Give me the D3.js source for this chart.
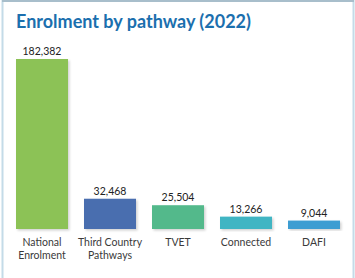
<!DOCTYPE html>
<html><head><meta charset="utf-8">
<script src="https://cdn.jsdelivr.net/npm/d3@7"></script>
<style>body{margin:0;background:#fff;} svg{display:block;}</style>
</head><body>
<script>
const categories = ["National Enrolment", "Third Country Pathways", "TVET", "Connected", "DAFI"];
const labelLines = [["National", "Enrolment"], ["Third Country", "Pathways"], ["TVET"], ["Connected"], ["DAFI"]];
const values = [182382, 32468, 25504, 13266, 9044];
const valueLabels = ["182,382", "32,468", "25,504", "13,266", "9,044"];
const colors = ["#8cc257", "#4a6eaf", "#52b98b", "#3fb5c3", "#3c9dd2"];

const W = 355, H = 278;
const svg = d3.select("body").append("svg").attr("width", W).attr("height", H);

const defs = svg.append("defs");
const f = defs.append("filter").attr("id", "sh").attr("x", "-20%").attr("y", "-20%").attr("width", "140%").attr("height", "140%");
f.append("feDropShadow").attr("dx", 1.5).attr("dy", 1.5).attr("stdDeviation", 1.2).attr("flood-color", "#000").attr("flood-opacity", 0.18);

// frame
svg.append("rect").attr("x", 2.5).attr("y", 1).attr("width", 351).attr("height", 290)
  .attr("fill", "none").attr("stroke", "#c4dbe8").attr("stroke-width", 2);
svg.append("line").attr("x1", 2).attr("x2", 354).attr("y1", 1).attr("y2", 1).attr("stroke", "#9fb4c2").attr("stroke-width", 1.5);

svg.append("text").attr("x", 16).attr("y", 28)
  .attr("font-family", "Lato, 'Open Sans', sans-serif").attr("font-weight", 700)
  .attr("font-size", 18).attr("fill", "#1b6fae").text("Enrolment by pathway (2022)");

const x = d3.scaleBand().domain(categories).range([8, 348]).paddingInner(16/68).paddingOuter(8/68);
const y = d3.scaleLinear().domain([0, 182382]).range([229, 59]);

const g = svg.append("g");
g.selectAll("rect.bar").data(values).join("rect").attr("class", "bar")
  .attr("x", (d, i) => x(categories[i])).attr("width", x.bandwidth())
  .attr("y", d => y(d)).attr("height", d => y(0) - y(d))
  .attr("fill", (d, i) => colors[i]).attr("filter", "url(#sh)");

g.selectAll("text.val").data(values).join("text").attr("class", "val")
  .attr("x", (d, i) => x(categories[i]) + x.bandwidth() / 2)
  .attr("y", d => y(d) - 4)
  .attr("text-anchor", "middle").attr("font-family", "Lato, 'Open Sans', sans-serif")
  .attr("font-size", 10.5).attr("fill", "#222").text((d, i) => valueLabels[i]);

categories.forEach((c, i) => {
  const t = g.append("text").attr("text-anchor", "middle")
    .attr("font-family", "Lato, 'Open Sans', sans-serif").attr("font-size", 10.5).attr("fill", "#3a3a3a");
  labelLines[i].forEach((ln, j) => {
    t.append("tspan").attr("x", x(c) + x.bandwidth() / 2).attr("y", 246 + j * 13).text(ln);
  });
});
</script>
</body></html>
